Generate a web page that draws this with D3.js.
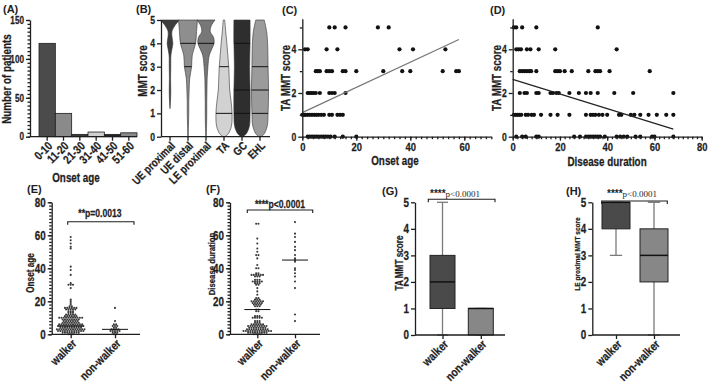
<!DOCTYPE html>
<html>
<head>
<meta charset="utf-8">
<script src="https://cdn.jsdelivr.net/npm/d3@7"></script>
<style>
  body { margin: 0; background: #fff; }
  svg text { font-family: "Liberation Sans", Arial, sans-serif; font-weight: bold; }
  svg text.nw { stroke: #1e1e1e; stroke-width: 0.25px; }
</style>
</head>
<body>
<div id="chart"></div>
<script>
// ---- (A) onset age histogram
const ageGroups = ['0-10', '11-20', '21-30', '31-40', '41-50', '51-60'];
const ageCounts = [120, 30, 3, 6, 3, 5];
const ageTicks = [0, 50, 100, 150];

// ---- (B) MMT score violins (score levels and relative density at each level)
const muscles = ['UE proximal', 'UE distal', 'LE proximal', 'TA', 'GC', 'EHL'];
const violinScores = [
  [1.2, 1.5, 2, 2.5, 3, 3.5, 3.75, 4, 4.25, 4.5, 4.75, 5],
  [0, 0.5, 1, 1.5, 2, 2.5, 3, 3.5, 4, 4.5, 5],
  [0, 0.5, 1, 1.5, 2, 2.5, 3, 3.5, 3.75, 4, 4.25, 4.5, 4.75, 5],
  [0, 0.1, 0.25, 0.5, 1, 1.5, 2, 2.5, 3, 3.5, 4, 4.5, 5],
  [0, 0.1, 0.25, 0.5, 1, 2, 3, 4, 5],
  [0, 0.1, 0.25, 0.5, 1, 2, 3, 4, 4.5, 5]
];
const violinDensity = [
  [0, 0.05, 0.08, 0.06, 0.08, 0.1, 0.2, 0.3, 0.22, 0.2, 0.5, 1.0],
  [0.03, 0.05, 0.08, 0.08, 0.12, 0.18, 0.38, 0.45, 0.8, 0.9, 1.0],
  [0.03, 0.06, 0.08, 0.08, 0.1, 0.12, 0.2, 0.35, 0.6, 0.85, 0.8, 0.45, 0.55, 0.95],
  [0.1, 0.4, 0.62, 0.8, 0.85, 0.75, 0.6, 0.55, 0.5, 0.4, 0.3, 0.18, 0.08],
  [0.1, 0.4, 0.62, 0.8, 0.85, 0.85, 0.8, 0.85, 0.85],
  [0.1, 0.4, 0.6, 0.78, 0.85, 0.9, 0.85, 0.8, 0.7, 0.45]
];
const violinLines = [[], [4, 3], [4], [3, 1], [4, 2, 1], [3, 2, 1]];

// ---- (C) TA MMT score vs onset age
const cAge = [10, 12, 16, 28, 32,
  1, 2, 9, 13, 36, 41, 53,
  5, 5.7, 6.5, 9, 10, 11, 15, 16, 20, 30, 37, 40, 52, 57, 58,
  2, 2.7, 3.4, 4.2, 5, 6.5, 10, 11, 12, 16,
  0, 0.6, 1.2, 2, 2.8, 3.6, 4.4, 5.2, 6, 7, 8, 10, 11, 13, 14, 15,
  2, 2.8, 3.6, 4.4, 5.2, 6, 7, 7.8, 8.6, 9.5, 10.5, 12, 15, 20];
const cScore = [5, 5, 5, 5, 5,
  4, 4, 4, 4, 4, 4, 4,
  3, 3, 3, 3, 3, 3, 3, 3, 3, 3, 3, 3, 3, 3, 3,
  2, 2, 2, 2, 2, 2, 2, 2, 2, 2,
  1, 1, 1, 1, 1, 1, 1, 1, 1, 1, 1, 1, 1, 1, 1, 1,
  0, 0, 0, 0, 0, 0, 0, 0, 0, 0, 0, 0, 0, 0];
const cFitAge = [0, 58];
const cFitScore = [1.1, 4.45];

// ---- (D) TA MMT score vs disease duration
const dDur = [0.5, 1.5, 4, 10, 36,
  1.5, 2.5, 3.5, 6, 7.5, 11, 18, 44,
  3, 4, 5, 6, 7, 7.8, 10, 18, 19, 20, 22, 25, 32, 35, 36, 37, 41, 58,
  3, 5, 6, 10, 11, 16, 17, 18.5, 19.5, 24, 28, 31, 33, 36, 43, 51, 68,
  0.5, 1.3, 2, 2.8, 3.6, 5.5, 6.5, 8, 9, 12, 16, 19, 24, 31, 33, 34, 35, 36.5, 38, 40, 45, 46, 50, 51.5, 54, 57.5, 61, 65, 68,
  1.5, 4, 5.5, 10, 11, 26, 28.5, 31, 32, 33, 34, 35, 36, 37, 39, 44, 45.5, 47, 48.5, 52, 54, 59, 60, 68];
const dScore = [5, 5, 5, 5, 5,
  4, 4, 4, 4, 4, 4, 4, 4,
  3, 3, 3, 3, 3, 3, 3, 3, 3, 3, 3, 3, 3, 3, 3, 3, 3, 3,
  2, 2, 2, 2, 2, 2, 2, 2, 2, 2, 2, 2, 2, 2, 2, 2, 2,
  1, 1, 1, 1, 1, 1, 1, 1, 1, 1, 1, 1, 1, 1, 1, 1, 1, 1, 1, 1, 1, 1, 1, 1, 1, 1, 1, 1, 1,
  0, 0, 0, 0, 0, 0, 0, 0, 0, 0, 0, 0, 0, 0, 0, 0, 0, 0, 0, 0, 0, 0, 0, 0];
const dFitDur = [0, 68];
const dFitScore = [2.62, 0.35];

// ---- (E)-(H) walker vs non-walker
const groups = ['walker', 'non-walker'];
const onsetWalkerVals   = [0, 1, 2, 3, 4, 5, 6, 7, 8, 9, 10, 11, 12, 13, 14, 15, 16, 17, 18, 19, 20, 21, 28, 30, 31, 36, 39, 41, 52, 53, 55, 57, 59];
const onsetWalkerCounts = [3, 8, 12, 13, 10, 12, 11, 8, 7, 8, 11, 6, 5, 3, 3, 5, 6, 2, 1, 1, 1, 1, 1, 3, 1, 1, 1, 1, 1, 1, 1, 1, 1];
const onsetNonVals   = [0, 1, 2, 3, 4, 5, 6, 8, 16];
const onsetNonCounts = [2, 3, 5, 4, 2, 3, 2, 1, 1];
const onsetMedians = [5, 3];

const durWalkerVals   = [0, 1, 2, 3, 4, 5, 6, 7, 8, 10, 11, 14, 15, 17, 18, 19, 20, 21, 22, 24, 26, 28, 30, 31, 32, 33, 35, 36, 37, 40, 42, 46, 48, 50, 52, 55, 58, 67];
const durWalkerCounts = [4, 9, 13, 10, 8, 9, 6, 3, 3, 5, 3, 2, 2, 3, 4, 5, 6, 3, 2, 1, 1, 1, 2, 3, 5, 3, 3, 6, 2, 2, 1, 1, 2, 1, 1, 1, 1, 2];
const durNonVals   = [8, 12, 28, 32, 35, 37, 39, 40, 44, 45, 46, 48, 51, 53, 56, 59, 61, 68];
const durNonCounts = [1, 1, 1, 1, 1, 1, 1, 1, 1, 1, 1, 1, 1, 1, 1, 1, 1, 1];
const durMedians = [15, 45];

// box stats: min, q1, median, q3, max
const taBox = [[0, 1, 2, 3, 5], [0, 0, 1, 1, 1]];
const leBox = [[3, 4, 5, 5, 5], [0, 2, 3, 4, 5]];

// ---- colours
const ink = '#1e1e1e';
const barFills = ['#4b4b4b', '#8a8a8a', '#3a3a3a', '#cfcfcf', '#232323', '#8a8a8a'];
const violinFills = ['#3c3c3c', '#8e8e8e', '#777777', '#d2d2d2', '#2e2e2e', '#9b9b9b'];
const boxFills = ['#4a4a4a', '#878787'];
const squeeze = 0.82;

const svg = d3.select('#chart').append('svg')
  .attr('width', 709)
  .attr('height', 384);
svg.append('rect').attr('width', 709).attr('height', 384).attr('fill', '#fff');

// common axis look
function styleAxis(g, size) {
  g.selectAll('path, line').attr('stroke', ink).attr('stroke-width', 1.3);
  g.selectAll('text').attr('font-size', size || 10).attr('fill', ink).classed('nw', true);
}

function leftAxis(scale, x, majors, minors, size) {
  const g = svg.append('g').attr('transform', `translate(${x},0)`);
  if (minors) {
    g.append('g')
      .call(d3.axisLeft(scale).tickValues(minors).tickSize(2.5).tickFormat(''))
      .call(a => a.select('.domain').remove())
      .call(styleAxis);
  }
  g.append('g')
    .call(d3.axisLeft(scale).tickValues(majors).tickSize(4).tickSizeOuter(0).tickPadding(2).tickFormat(d3.format('d')))
    .call(a => styleAxis(a, size));
}

function bottomAxis(scale, y, majors, minors, size) {
  const g = svg.append('g').attr('transform', `translate(0,${y})`);
  if (minors) {
    g.append('g')
      .call(d3.axisBottom(scale).tickValues(minors).tickSize(2.5).tickFormat(''))
      .call(a => a.select('.domain').remove())
      .call(styleAxis);
  }
  g.append('g')
    .call(d3.axisBottom(scale).tickValues(majors).tickSize(4).tickSizeOuter(0).tickPadding(2).tickFormat(d3.format('d')))
    .call(a => styleAxis(a, size));
}

// categorical x axis with rotated labels
function catAxis(scale, y, x0, x1, size) {
  svg.append('line')
    .attr('x1', x0).attr('x2', x1).attr('y1', y).attr('y2', y)
    .attr('stroke', ink).attr('stroke-width', 1.3);
  const g = svg.append('g').attr('transform', `translate(0,${y})`)
    .call(d3.axisBottom(scale).tickSize(4).tickSizeOuter(0));
  g.select('.domain').remove();
  styleAxis(g, size);
  g.selectAll('text')
    .attr('x', 0).attr('y', 0).attr('dy', '0.35em')
    .attr('text-anchor', 'end')
    .attr('transform', 'translate(3,7) rotate(-45)');
}

function label(x, y, txt, size, rotate) {
  const t = svg.append('text')
    .attr('text-anchor', 'middle')
    .attr('font-size', size)
    .attr('fill', ink)
    .attr('class', 'nw')
    .text(txt);
  if (rotate) {
    t.attr('transform', `translate(${x},${y}) rotate(-90)`).attr('dy', '0.35em');
  } else {
    t.attr('transform', `translate(${x},${y})`);
  }
  return t;
}

function panelLabel(x, y, txt) {
  svg.append('text').attr('x', x).attr('y', y).attr('font-size', 11).attr('fill', ink).text(txt);
}

function bracket(x1, x2, y) {
  svg.append('path')
    .attr('d', `M${x1},${y + 3}V${y}H${x2}V${y + 3}`)
    .attr('fill', 'none').attr('stroke', ink).attr('stroke-width', 1.1);
}

// ================= (A) =================
const xA = d3.scaleBand().domain(ageGroups).range([39, 137]).padding(0);
const yA = d3.scaleLinear().domain([0, 150]).range([136.7, 20]);

svg.append('g').selectAll('rect')
  .data(ageCounts)
  .enter()
  .append('rect')
  .attr('x', (d, i) => xA(ageGroups[i]))
  .attr('y', d => yA(d))
  .attr('width', xA.bandwidth())
  .attr('height', d => yA(0) - yA(d))
  .attr('fill', (d, i) => barFills[i])
  .attr('stroke', ink)
  .attr('stroke-width', 0.8);

leftAxis(yA, 30, ageTicks, d3.range(0, 151, 5));
catAxis(xA, 136.7, 30, 137, 12);
label(7, 79, 'Number of patients', 12, true);
label(76, 182, 'Onset age', 12);
panelLabel(3, 13, '(A)');

// ================= (B) =================
const xB = d3.scaleBand().domain(muscles).range([161, 269]);
const yB = d3.scaleLinear().domain([0, 5]).range([136.7, 20]);
const halfW = 9.5;

muscles.forEach((m, i) => {
  const cx = xB(m) + xB.bandwidth() / 2;
  const pts = violinScores[i].map((s, j) => ({ s: s, w: violinDensity[i][j] }));
  const area = d3.area()
    .y(d => yB(d.s))
    .x0(d => cx - d.w * halfW)
    .x1(d => cx + d.w * halfW)
    .curve(d3.curveCatmullRom);
  svg.append('path')
    .datum(pts)
    .attr('d', area)
    .attr('fill', violinFills[i])
    .attr('stroke', '#333')
    .attr('stroke-width', 0.6);
  // median / quartile lines, width taken from the violin outline
  const widthAt = d3.scaleLinear().domain(violinScores[i]).range(violinDensity[i]);
  violinLines[i].forEach(s => {
    const w = widthAt(s) * halfW;
    svg.append('line')
      .attr('x1', cx - w).attr('x2', cx + w)
      .attr('y1', yB(s)).attr('y2', yB(s))
      .attr('stroke', '#111').attr('stroke-width', 1);
  });
});

leftAxis(yB, 161, [0, 1, 2, 3, 4, 5], null, 10.5);
catAxis(xB, 136.7, 161, 270, 11.5);
label(143, 71, 'MMT score', 12, true);
panelLabel(136, 13, '(B)');

// ================= (C) =================
const xC = d3.scaleLinear().domain([0, 70]).range([302.3, 491.3]);
const yC = d3.scaleLinear().domain([0, 5.4]).range([136.7, 18.7]);

svg.append('g').selectAll('circle')
  .data(cAge)
  .enter()
  .append('circle')
  .attr('cx', d => xC(d))
  .attr('cy', (d, i) => yC(cScore[i]))
  .attr('r', 2.1)
  .attr('fill', '#111');

svg.append('line')
  .attr('x1', xC(cFitAge[0])).attr('y1', yC(cFitScore[0]))
  .attr('x2', xC(cFitAge[1])).attr('y2', yC(cFitScore[1]))
  .attr('stroke', '#777').attr('stroke-width', 1.2);

leftAxis(yC, 302.3, [0, 2, 4], [1, 3, 5], 10.5);
bottomAxis(xC, 136.7, [0, 20, 40, 60], d3.range(0, 71, 2), 11.5);
label(285.5, 78, 'TA MMT score', 12, true);
label(395, 165, 'Onset age', 12);
panelLabel(282, 14, '(C)');

// ================= (D) =================
const xD = d3.scaleLinear().domain([0, 80]).range([512.7, 701.7]);
const yD = d3.scaleLinear().domain([0, 5.4]).range([136.7, 18.7]);

svg.append('g').selectAll('circle')
  .data(dDur)
  .enter()
  .append('circle')
  .attr('cx', d => xD(d))
  .attr('cy', (d, i) => yD(dScore[i]))
  .attr('r', 2.1)
  .attr('fill', '#111');

svg.append('line')
  .attr('x1', xD(dFitDur[0])).attr('y1', yD(dFitScore[0]))
  .attr('x2', xD(dFitDur[1])).attr('y2', yD(dFitScore[1]))
  .attr('stroke', '#222').attr('stroke-width', 1.2);

leftAxis(yD, 512.7, [0, 2, 4], [1, 3, 5], 10.5);
bottomAxis(xD, 136.7, [0, 20, 40, 60, 80], d3.range(0, 81, 2), 11.5);
label(496.5, 78, 'TA MMT score', 12, true);
label(607, 166, 'Disease duration', 12);
panelLabel(490, 14, '(D)');

// beeswarm placement of repeated values
function swarm(vals, counts, cx, y, gap) {
  const pts = [];
  vals.forEach((v, i) => {
    const n = counts[i];
    for (let k = 0; k < n; k++) pts.push({ x: cx + (k - (n - 1) / 2) * gap, y: y(v) });
  });
  return pts;
}

function dotPanel(x, y, sets, medians, medW) {
  sets.forEach((pts, gi) => {
    svg.append('g').selectAll('circle')
      .data(pts)
      .enter()
      .append('circle')
      .attr('cx', d => d.x)
      .attr('cy', d => d.y)
      .attr('r', 1.05)
      .attr('fill', '#3a3a3a');
    const cx = x(groups[gi]);
    svg.append('line')
      .attr('x1', cx - medW).attr('x2', cx + medW)
      .attr('y1', y(medians[gi])).attr('y2', y(medians[gi]))
      .attr('stroke', '#111').attr('stroke-width', 1);
  });
}

// ================= (E) =================
const xE = d3.scalePoint().domain(groups).range([70.7, 115]);
const yE = d3.scaleLinear().domain([0, 80]).range([334.3, 202.3]);

dotPanel(xE, yE, [
  swarm(onsetWalkerVals, onsetWalkerCounts, xE('walker'), yE, 2.3),
  swarm(onsetNonVals, onsetNonCounts, xE('non-walker'), yE, 2.3)
], onsetMedians, 13);

leftAxis(yE, 51.7, [0, 20, 40, 60, 80], d3.range(0, 81, 2), 12);
catAxis(xE, 334.3, 51.7, 140, 12);
label(30, 273, 'Onset age', 10, true);
bracket(67.7, 134, 221.7);
label(100, 216.5, '**p=0.0013', 10.5);
panelLabel(27, 193, '(E)');

// ================= (F) =================
const xF = d3.scalePoint().domain(groups).range([257.3, 295]);
const yF = d3.scaleLinear().domain([0, 80]).range([334.3, 202.3]);

dotPanel(xF, yF, [
  swarm(durWalkerVals, durWalkerCounts, xF('walker'), yF, 2.3),
  swarm(durNonVals, durNonCounts, xF('non-walker'), yF, 2.3)
], durMedians, 13);

leftAxis(yF, 230, [0, 20, 40, 60, 80], d3.range(0, 81, 2), 12);
catAxis(xF, 334.3, 230, 320, 12);
label(211.7, 264, 'Disease duration', 9.5, true);
bracket(247.3, 312.7, 210);
label(280, 207.5, '****p<0.0001', 10.5);
panelLabel(206, 193, '(F)');

// box plots
function boxPanel(x, y, stats, bw) {
  stats.forEach((s, i) => {
    const cx = x(groups[i]);
    // whisker
    svg.append('line')
      .attr('x1', cx).attr('x2', cx)
      .attr('y1', y(s[0])).attr('y2', y(s[4]))
      .attr('stroke', '#7a7a7a').attr('stroke-width', 1.3);
    [s[0], s[4]].forEach(v => {
      svg.append('line')
        .attr('x1', cx - bw * 0.22).attr('x2', cx + bw * 0.22)
        .attr('y1', y(v)).attr('y2', y(v))
        .attr('stroke', '#7a7a7a').attr('stroke-width', 1.3);
    });
    svg.append('rect')
      .attr('x', cx - bw / 2)
      .attr('y', y(s[3]))
      .attr('width', bw)
      .attr('height', y(s[1]) - y(s[3]))
      .attr('fill', boxFills[i])
      .attr('stroke', '#222').attr('stroke-width', 1);
    svg.append('line')
      .attr('x1', cx - bw / 2).attr('x2', cx + bw / 2)
      .attr('y1', y(s[2])).attr('y2', y(s[2]))
      .attr('stroke', '#111').attr('stroke-width', 1.5);
  });
}

function starText(x, y) {
  const t = svg.append('text').attr('x', x).attr('y', y).attr('fill', ink);
  t.append('tspan').attr('font-size', 10).text('****');
  t.append('tspan').attr('font-size', 9).attr('font-weight', 'normal')
    .style('font-family', '"Liberation Serif", "Times New Roman", serif')
    .text('p<0.0001');
}

// ================= (G) =================
const xG = d3.scalePoint().domain(groups).range([442.5, 480.8]);
const yG = d3.scaleLinear().domain([0, 5]).range([335, 202.3]);
boxPanel(xG, yG, taBox, 25);
leftAxis(yG, 415, [0, 1, 2, 3, 4, 5], null, 12);
catAxis(xG, 335, 415, 505, 12);
label(399, 263, 'TA MMT score', 10, true);
bracket(428.3, 495, 199.3);
starText(430, 196.5);
panelLabel(382, 195, '(G)');

// ================= (H) =================
const xH = d3.scalePoint().domain(groups).range([616, 654]);
const yH = d3.scaleLinear().domain([0, 5]).range([335, 202.3]);
boxPanel(xH, yH, leBox, 28);
leftAxis(yH, 592.3, [0, 1, 2, 3, 4, 5], null, 12);
catAxis(xH, 335, 592.3, 680, 12);
label(576.7, 254, 'LE proximal MMT score', 8, true);
bracket(601.7, 667.3, 201);
starText(607, 196.5);
panelLabel(566, 195, '(H)');

// squeeze sans text along its baseline to the narrow look of the original figure
svg.selectAll('text.nw').each(function () {
  const t = d3.select(this);
  const x = +t.attr('x') || 0;
  t.attr('x', x / squeeze)
    .attr('transform', (t.attr('transform') || '') + ` scale(${squeeze},1)`);
});
</script>
</body>
</html>
